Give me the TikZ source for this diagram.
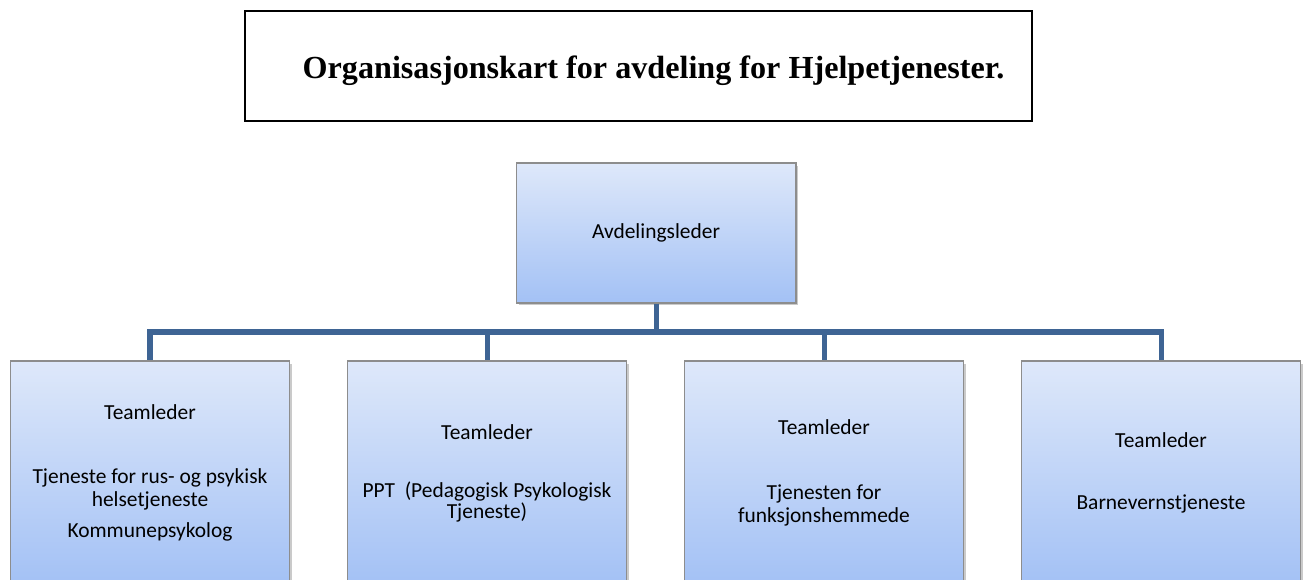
\documentclass[tikz,border=0pt]{standalone}
\usepackage{fontspec}
\setmainfont{Carlito}
\newfontfamily\titlefont{Liberation Serif}
\usepackage{xcolor}
\definecolor{orgtop}{RGB}{222,232,250}
\definecolor{orgbottom}{RGB}{163,193,245}
\definecolor{orgedge}{RGB}{141,141,141}
\definecolor{orgbus}{RGB}{62,100,148}
\usepackage{tikz}
\usetikzlibrary{positioning,shadows}

\begin{document}
\begin{tikzpicture}[
  x=0.02cm, y=-0.02cm,
  font=\fontsize{12.2}{13}\selectfont,
  titlebox/.style={rectangle, draw=black, line width=1.4pt, minimum width=15.74cm, minimum height=2.2cm, align=center, font=\titlefont\bfseries\fontsize{18.3}{22}\selectfont},
  unit/.style={rectangle, draw=orgedge, line width=0.6pt, top color=orgtop, bottom color=orgbottom, align=center,
    drop shadow={shadow xshift=0.05cm, shadow yshift=-0.05cm, opacity=0.35, fill=black!60}},
  head/.style={unit, minimum width=5.6cm, minimum height=2.8cm},
  team/.style={unit, minimum width=5.58cm, minimum height=4.48cm},
  bus/.style={orgbus, line width=2.85pt},
]
\useasboundingbox (0,0) rectangle (1307,580);
\clip (0,0) rectangle (1307,580);
% ---------------- title
\node[titlebox] (title) at (638.5,66) {\hspace*{0.6cm}Organisasjonskart for avdeling for Hjelpetjenester.\rule[-4pt]{0pt}{22pt}};
% ---------------- department head
\node[head] (leader) at (656,233) {Avdelingsleder};
% ---------------- teams (boxes run past the lower edge)
\node[team] (team1) at (150,473) {Teamleder\\[23.4pt]Tjeneste for rus- og psykisk\\helsetjeneste\\[4.6pt]Kommunepsykolog};
\node[team] (team2) at (487,473) {Teamleder\\[20pt]PPT\ \ (Pedagogisk Psykologisk\\[-1pt]Tjeneste)};
\node[team] (team3) at (824,473) {Teamleder\\[24pt]Tjenesten for\\funksjonshemmede};
\node[team] (team4) at (1161,473) {Teamleder\\[22pt]Barnevernstjeneste};
% ---------------- connectors
\coordinate (junction) at (656,332);
\draw[bus] (leader.south) -- (junction);
\foreach \k in {1,...,4} {
  \draw[bus] (junction) -| (team\k.north);
}
\end{tikzpicture}
\end{document}
